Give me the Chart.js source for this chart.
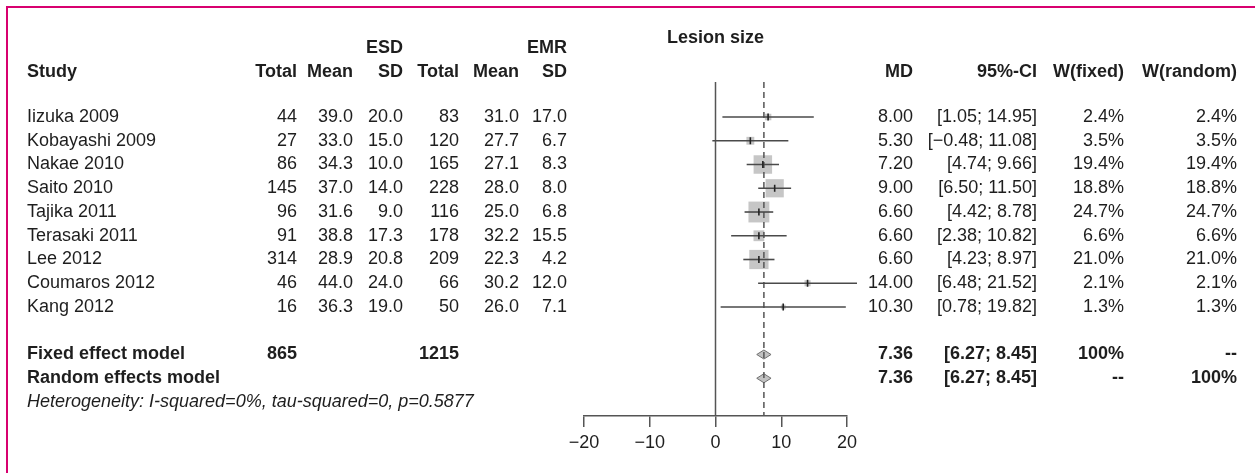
<!DOCTYPE html>
<html>
<head>
<meta charset="utf-8">
<script src="https://cdn.jsdelivr.net/npm/chart.js@4.4.1/dist/chart.umd.min.js"></script>
<style>
  html, body { margin: 0; padding: 0; background: #fff; overflow: hidden; }
  #wrap { position: relative; width: 1255px; height: 473px; }
  #c { display: block; position: absolute; left: 0; top: 0; }
  #frame { position: absolute; left: 6px; top: 6px; width: 3000px; height: 3000px;
           border-top: 2px solid #d8006f; border-left: 2px solid #d8006f; pointer-events: none; }
</style>
</head>
<body>
<div id="wrap">
  <canvas id="c" width="1255" height="473"></canvas>
  <div id="frame"></div>
</div>
<script>
// ---------------- data ----------------
const studies   = ["Iizuka 2009", "Kobayashi 2009", "Nakae 2010", "Saito 2010", "Tajika 2011",
                   "Terasaki 2011", "Lee 2012", "Coumaros 2012", "Kang 2012"];
const esdTotal  = [44, 27, 86, 145, 96, 91, 314, 46, 16];
const esdMean   = [39.0, 33.0, 34.3, 37.0, 31.6, 38.8, 28.9, 44.0, 36.3];
const esdSD     = [20.0, 15.0, 10.0, 14.0, 9.0, 17.3, 20.8, 24.0, 19.0];
const emrTotal  = [83, 120, 165, 228, 116, 178, 209, 66, 50];
const emrMean   = [31.0, 27.7, 27.1, 28.0, 25.0, 32.2, 22.3, 30.2, 26.0];
const emrSD     = [17.0, 6.7, 8.3, 8.0, 6.8, 15.5, 4.2, 12.0, 7.1];
const md        = [8.00, 5.30, 7.20, 9.00, 6.60, 6.60, 6.60, 14.00, 10.30];
const ciLow     = [1.05, -0.48, 4.74, 6.50, 4.42, 2.38, 4.23, 6.48, 0.78];
const ciHigh    = [14.95, 11.08, 9.66, 11.50, 8.78, 10.82, 8.97, 21.52, 19.82];
const wFixed    = [2.4, 3.5, 19.4, 18.8, 24.7, 6.6, 21.0, 2.1, 1.3];
const wRandom   = [2.4, 3.5, 19.4, 18.8, 24.7, 6.6, 21.0, 2.1, 1.3];

const summaryLabels = ["Fixed effect model", "Random effects model"];
const summaryMD     = [7.36, 7.36];
const summaryLow    = [6.27, 6.27];
const summaryHigh   = [8.45, 8.45];
const summaryWFixed = ["100%", "--"];
const summaryWRand  = ["--", "100%"];
const totalESD = 865;
const totalEMR = 1215;
const heterogeneity = "Heterogeneity: I-squared=0%, tau-squared=0, p=0.5877";
const plotTitle = "Lesion size";

const xTicks = [-20, -10, 0, 10, 20];

// ---------------- layout / style ----------------
const FONT = '"Liberation Sans", Arial, Helvetica, sans-serif';
const TXT = '#1e1e1e';
const FS = 18;
const Y_MIN = -1.474, Y_MAX = 12.589;     // row units
const ROW_FIXED = 10, ROW_RANDOM = 11, ROW_HET = 12;
const ROW_HDR1 = -2.9, ROW_HDR2 = -1.9, ROW_TITLE = -3.32;
const DIAMOND_H = 0.19;
const COL = { study: 27, esdTotal: 297, esdMean: 353, esdSD: 403, emrTotal: 459, emrMean: 519,
              emrSD: 567, md: 913, ci: 1037, wf: 1124, wr: 1237 };

const minus = s => s.replace(/-/g, '\u2212');
const fmtCI = (lo, hi) => '[' + minus(lo.toFixed(2)) + '; ' + hi.toFixed(2) + ']';

// ---------------- datasets ----------------
const datasets = [];

// reference lines
datasets.push({
  data: [{x: 0, y: Y_MIN}, {x: 0, y: Y_MAX}],
  showLine: true, borderColor: '#555', borderWidth: 1.5, pointRadius: 0, order: 9
});
datasets.push({
  data: [{x: summaryMD[0], y: Y_MIN}, {x: summaryMD[0], y: Y_MAX}],
  showLine: true, borderColor: '#555', borderWidth: 1.5, borderDash: [6, 4], pointRadius: 0, order: 4
});

// weight squares
datasets.push({
  data: md.map((v, i) => ({x: v, y: i})),
  showLine: false,
  pointStyle: 'rect',
  pointRadius: wFixed.map(w => 4.2 * Math.sqrt(w) / Math.SQRT2),
  backgroundColor: '#c6c6c6', borderWidth: 0, order: 6
});

// confidence interval lines
studies.forEach((s, i) => {
  datasets.push({
    data: [{x: ciLow[i], y: i}, {x: ciHigh[i], y: i}],
    showLine: true, borderColor: '#4a4a4a', borderWidth: 1.6, pointRadius: 0, order: 3
  });
});

// point estimate ticks
datasets.push({
  data: md.map((v, i) => ({x: v, y: i})),
  showLine: false, pointStyle: 'line', pointRotation: 90, pointRadius: 3.5,
  borderColor: '#222', borderWidth: 1.6, order: 1
});

// summary diamonds
[ROW_FIXED, ROW_RANDOM].forEach((r, k) => {
  datasets.push({
    data: [
      {x: summaryLow[k], y: r}, {x: summaryMD[k], y: r - DIAMOND_H},
      {x: summaryHigh[k], y: r}, {x: summaryMD[k], y: r + DIAMOND_H},
      {x: summaryLow[k], y: r}
    ],
    showLine: true, fill: 'shape', backgroundColor: '#c2c2c2', borderColor: '#707070',
    borderWidth: 1, pointRadius: 0, tension: 0, order: 5
  });
});

// ---------------- text plugin ----------------
const textPlugin = {
  id: 'forestText',
  afterDraw(chart) {
    const ctx = chart.ctx;
    const ys = chart.scales.y;
    const xs = chart.scales.x;
    const Y = r => ys.getPixelForValue(r);
    ctx.save();
    ctx.fillStyle = TXT;
    ctx.textBaseline = 'middle';
    const put = (t, x, r, align, style) => {
      ctx.font = (style || '') + ' ' + FS + 'px ' + FONT;
      ctx.textAlign = align;
      ctx.fillText(t, x, Y(r));
    };
    // title
    put(plotTitle, xs.getPixelForValue(0), ROW_TITLE, 'center', 'bold');
    // headers
    put('ESD', COL.esdSD, ROW_HDR1, 'right', 'bold');
    put('EMR', COL.emrSD, ROW_HDR1, 'right', 'bold');
    put('Study', COL.study, ROW_HDR2, 'left', 'bold');
    put('Total', COL.esdTotal, ROW_HDR2, 'right', 'bold');
    put('Mean', COL.esdMean, ROW_HDR2, 'right', 'bold');
    put('SD', COL.esdSD, ROW_HDR2, 'right', 'bold');
    put('Total', COL.emrTotal, ROW_HDR2, 'right', 'bold');
    put('Mean', COL.emrMean, ROW_HDR2, 'right', 'bold');
    put('SD', COL.emrSD, ROW_HDR2, 'right', 'bold');
    put('MD', COL.md, ROW_HDR2, 'right', 'bold');
    put('95%-CI', COL.ci, ROW_HDR2, 'right', 'bold');
    put('W(fixed)', COL.wf, ROW_HDR2, 'right', 'bold');
    put('W(random)', COL.wr, ROW_HDR2, 'right', 'bold');
    // study rows
    studies.forEach((s, i) => {
      put(s, COL.study, i, 'left');
      put(String(esdTotal[i]), COL.esdTotal, i, 'right');
      put(esdMean[i].toFixed(1), COL.esdMean, i, 'right');
      put(esdSD[i].toFixed(1), COL.esdSD, i, 'right');
      put(String(emrTotal[i]), COL.emrTotal, i, 'right');
      put(emrMean[i].toFixed(1), COL.emrMean, i, 'right');
      put(emrSD[i].toFixed(1), COL.emrSD, i, 'right');
      put(md[i].toFixed(2), COL.md, i, 'right');
      put(fmtCI(ciLow[i], ciHigh[i]), COL.ci, i, 'right');
      put(wFixed[i].toFixed(1) + '%', COL.wf, i, 'right');
      put(wRandom[i].toFixed(1) + '%', COL.wr, i, 'right');
    });
    // summary rows
    [ROW_FIXED, ROW_RANDOM].forEach((r, k) => {
      put(summaryLabels[k], COL.study, r, 'left', 'bold');
      put(summaryMD[k].toFixed(2), COL.md, r, 'right', 'bold');
      put(fmtCI(summaryLow[k], summaryHigh[k]), COL.ci, r, 'right', 'bold');
      put(summaryWFixed[k], COL.wf, r, 'right', 'bold');
      put(summaryWRand[k], COL.wr, r, 'right', 'bold');
    });
    put(String(totalESD), COL.esdTotal, ROW_FIXED, 'right', 'bold');
    put(String(totalEMR), COL.emrTotal, ROW_FIXED, 'right', 'bold');
    put(heterogeneity, COL.study, ROW_HET, 'left', 'italic');
    ctx.restore();
  }
};

// ---------------- chart ----------------
new Chart(document.getElementById('c'), {
  type: 'scatter',
  data: { datasets },
  plugins: [textPlugin],
  options: {
    responsive: false,
    animation: false,
    devicePixelRatio: 1,
    clip: false,
    layout: { padding: { left: 584, right: 408, top: 82, bottom: 0 } },
    plugins: { legend: { display: false }, tooltip: { enabled: false } },
    elements: { line: { tension: 0 } },
    scales: {
      x: {
        type: 'linear', position: 'bottom', min: -20, max: 20,
        afterBuildTicks: s => { s.ticks = xTicks.map(v => ({ value: v })); },
        afterFit: s => { s.height = 57; },
        grid: { display: true, drawOnChartArea: false, drawTicks: true, tickLength: 11,
                color: '#555', lineWidth: 1.5 },
        border: { display: true, color: '#555', width: 1.5 },
        ticks: {
          color: TXT, padding: 5, maxRotation: 0, autoSkip: false,
          font: { size: FS, family: FONT },
          callback: v => minus(String(v))
        }
      },
      y: { type: 'linear', min: Y_MIN, max: Y_MAX, reverse: true, display: false }
    }
  }
});
</script>
</body>
</html>
